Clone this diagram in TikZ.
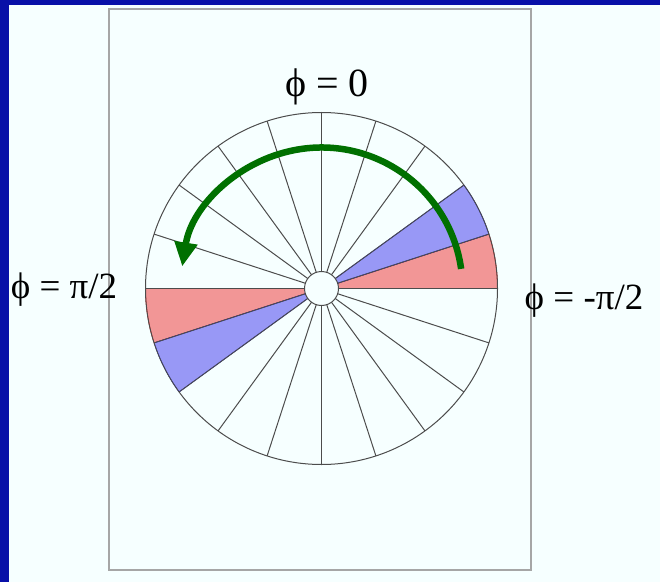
\documentclass[tikz,border=0pt]{standalone}
\usepackage{fontspec}
\setmainfont{Liberation Serif}
\usetikzlibrary{arrows.meta}

\definecolor{slideblue}{RGB}{8,16,168}
\definecolor{paper}{RGB}{246,255,255}
\definecolor{sectred}{RGB}{242,150,150}
\definecolor{sectblue}{RGB}{152,152,246}
\definecolor{arcgreen}{RGB}{0,112,0}

\begin{document}
\begin{tikzpicture}[x=1pt, y=1pt,
    spoke/.style={draw=black!70, line width=1pt},
    philabel/.style={inner sep=0pt, font=\fontsize{37}{44}\selectfont}]
    % Slide background and frame
    \fill[paper] (0,0) rectangle (660,582);
    \useasboundingbox (0,0) rectangle (660,582);
    \fill[slideblue] (0,0) rectangle (9,582);
    \fill[slideblue] (0,577) rectangle (660,582);
    \draw[black!35, line width=1.5pt] (109,12) rectangle (531,573);

    \coordinate (c) at (321.5,293.5);

    % Coloured sectors
    \filldraw[fill=sectred, draw=red, line width=0.6pt] (c) -- ++(0:176) arc[start angle=0, end angle=18, radius=176] -- cycle;
    \filldraw[fill=sectblue, draw=blue, line width=0.6pt] (c) -- ++(18:176) arc[start angle=18, end angle=36, radius=176] -- cycle;
    \filldraw[fill=sectred, draw=red, line width=0.6pt] (c) -- ++(180:176) arc[start angle=180, end angle=198, radius=176] -- cycle;
    \filldraw[fill=sectblue, draw=blue, line width=0.6pt] (c) -- ++(198:176) arc[start angle=198, end angle=216, radius=176] -- cycle;

    % Spokes and rings
    \foreach \a in {0,18,...,342}
        \draw[spoke] (c) ++(\a:17) -- ++(\a:159);
    \draw[spoke] (c) circle[radius=176];
    \filldraw[fill=paper, spoke] (c) circle[radius=17];

    % Rotation arrow
    \draw[arcgreen, line width=6.5pt, -{Triangle[length=24pt, width=22pt]}]
        (c) ++(8:141) arc[start angle=8, end angle=171, radius=141];

    % Labels
    \node[philabel, font=\fontsize{40}{48}\selectfont] (phizero) at (327,495) {ϕ = 0};
    \node[philabel] (phiplus) at (64,292) {ϕ = π/2};
    \node[philabel] (phiminus) at (584,281) {ϕ = -π/2};
\end{tikzpicture}
\end{document}
